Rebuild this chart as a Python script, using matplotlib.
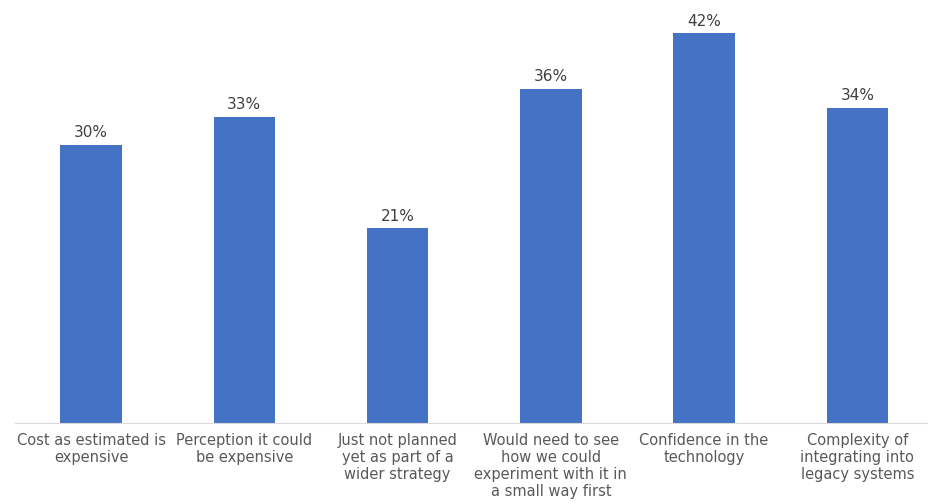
import matplotlib.pyplot as plt

categories = [
    "Cost as estimated is\nexpensive",
    "Perception it could\nbe expensive",
    "Just not planned\nyet as part of a\nwider strategy",
    "Would need to see\nhow we could\nexperiment with it in\na small way first",
    "Confidence in the\ntechnology",
    "Complexity of\nintegrating into\nlegacy systems",
]
values = [30, 33, 21, 36, 42, 34]

fig = plt.figure(figsize=(9.29, 5.04), dpi=100)
ax = fig.add_axes([14.5 / 929, 81 / 504, 919.5 / 929, 423 / 504])

x = range(len(values))
bars = ax.bar(x, values, width=0.4, color="#4472C4")
ax.set_xlim(-0.5, len(values) - 0.5)
ax.set_ylim(0, 45.6)

for b, v in zip(bars, values):
    ax.text(b.get_x() + b.get_width() / 2, v + 0.5, f"{v}%",
            ha="center", va="bottom", fontsize=11, color="#404040")

ax.set_xticks(list(x))
ax.set_xticklabels(categories, fontsize=10.5, color="#595959", linespacing=1.18)
ax.tick_params(axis="x", length=0, pad=7)
ax.set_yticks([])
for s in ["top", "right", "left"]:
    ax.spines[s].set_visible(False)
ax.spines["bottom"].set_color("#D9D9D9")

fig.savefig("out.png", dpi=100)
